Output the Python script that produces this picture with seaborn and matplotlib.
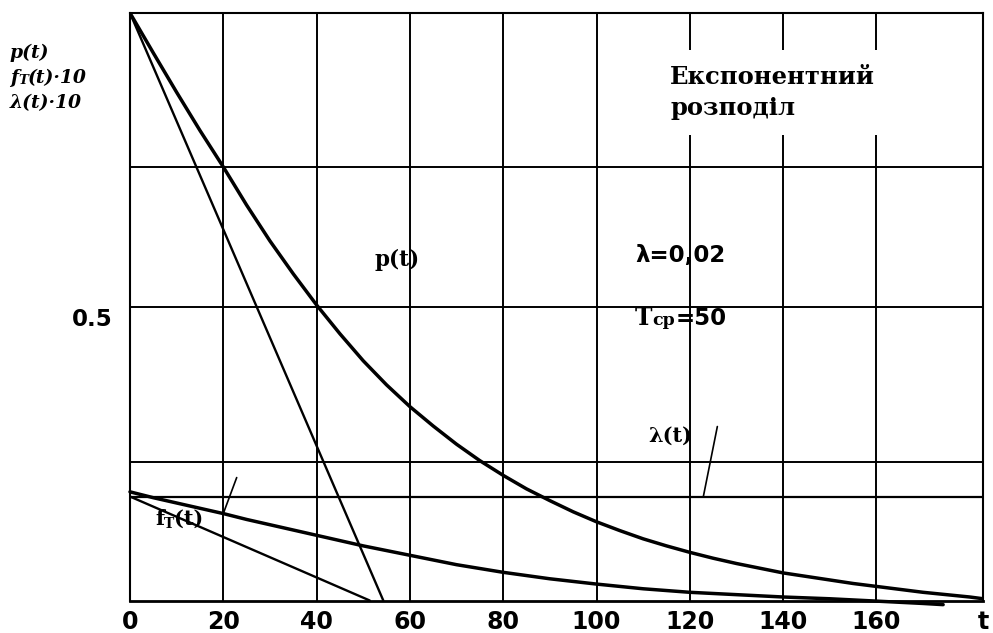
import matplotlib
matplotlib.use("Agg")
import matplotlib.pyplot as plt
import matplotlib.transforms as mtransforms
import pandas as pd
import seaborn as sns

# Exponential reliability model, lambda = 0.02, mean time T = 50
t_p = [0, 5, 10, 15, 20, 25, 30, 35, 40, 45, 50, 55, 60, 65, 70, 75, 80, 85, 90, 95,
       100, 105, 110, 115, 120, 125, 130, 135, 140, 145, 150, 155, 160, 165, 170, 175,
       180, 182.9]
p_vals = [1.0, 0.932, 0.865, 0.800, 0.738, 0.673, 0.612, 0.556, 0.503, 0.454, 0.408,
          0.367, 0.330, 0.297, 0.266, 0.238, 0.213, 0.190, 0.170, 0.151, 0.134, 0.119,
          0.105, 0.093, 0.082, 0.072, 0.063, 0.055, 0.047, 0.041, 0.035, 0.029, 0.024,
          0.019, 0.014, 0.010, 0.006, 0.003]

t_f = [0, 5, 10, 15, 20, 25, 30, 35, 40, 45, 50, 55, 60, 70, 80, 90, 100, 110, 120,
       130, 140, 150, 160, 170, 174.3]
f_vals = [0.185, 0.175, 0.166, 0.157, 0.148, 0.138, 0.129, 0.120, 0.111, 0.102, 0.093,
          0.085, 0.077, 0.061, 0.048, 0.037, 0.028, 0.020, 0.014, 0.010, 0.006, 0.003,
          -0.001, -0.005, -0.007]

t_lam = [0, 182.9]
lam_vals = [0.177, 0.177]

# tangents drawn at t = 0
t_p_tan = [0, 54.3]
p_tan = [1.0, 0.0]
t_f_tan = [0, 51.4]
f_tan = [0.177, 0.0]

x_ticks = [0, 20, 40, 60, 80, 100, 120, 140, 160, 182.9]
x_labels = ["0", "20", "40", "60", "80", "100", "120", "140", "160", "t"]
y_ticks = [0.236, 0.5, 0.738]
y_labels = ["", "0.5", ""]

sns.set_theme(style="white")
plt.rcParams["font.family"] = ["DejaVu Sans"]

fig = plt.figure(figsize=(9.93, 6.33), dpi=100)
ax = fig.add_axes([0.1309, 0.0513, 0.8593, 0.9282])
ax.set_xlim(0, 182.9)
ax.set_ylim(0, 1.0)

ax.set_xticks(x_ticks)
ax.set_xticklabels(x_labels)
ax.set_yticks(y_ticks)
ax.set_yticklabels(y_labels)
ax.grid(True, color="black", linewidth=1.4, zorder=0)
ax.set_axisbelow(True)
ax.tick_params(axis="both", length=0, colors="black")
ax.tick_params(axis="x", pad=7, labelsize=17)
ax.tick_params(axis="y", pad=12.2, labelsize=16.5)
for lab in ax.get_xticklabels() + ax.get_yticklabels():
    lab.set_fontweight("bold")
for lab in ax.get_yticklabels():
    lab.set_transform(lab.get_transform() +
                      mtransforms.ScaledTranslation(0, -10 / 100, fig.dpi_scale_trans))
for side, sp in ax.spines.items():
    sp.set_color("black")
    sp.set_linewidth(1.5)
ax.spines["bottom"].set_linewidth(2.0)

df_p = pd.DataFrame({"t": t_p, "v": p_vals})
df_f = pd.DataFrame({"t": t_f, "v": f_vals})
sns.lineplot(data=df_p, x="t", y="v", ax=ax, color="black", linewidth=2.5, zorder=5)
sns.lineplot(data=df_f, x="t", y="v", ax=ax, color="black", linewidth=2.5, zorder=5,
             clip_on=False)
sns.lineplot(x=t_lam, y=lam_vals, ax=ax, color="black", linewidth=1.6, zorder=4)
sns.lineplot(x=t_p_tan, y=p_tan, ax=ax, color="black", linewidth=1.7, zorder=4)
sns.lineplot(x=t_f_tan, y=f_tan, ax=ax, color="black", linewidth=1.7, zorder=4)
ax.set_xlabel("")
ax.set_ylabel("")

serif_b = dict(family="DejaVu Serif", weight="bold", color="black")
sans_b = dict(family="DejaVu Sans", weight="bold", color="black")

renderer = fig.canvas.get_renderer()


def text_run(host, x, y, pieces, base):
    """Write text pieces one after another on a common baseline."""
    dx = 0.0
    for s, kw, dy in pieces:
        tr = mtransforms.offset_copy(base, fig=fig, x=dx, y=dy, units="dots")
        txt = host.text(x, y, s, transform=tr, ha="left", va="baseline", zorder=6, **kw)
        dx += txt.get_window_extent(renderer).width


# title block with a white background cutting the grid
ax.text(115.8, 0.912, "Експонентний\nрозподіл", ha="left", va="top",
        fontsize=17.5, linespacing=1.4, zorder=3,
        bbox=dict(boxstyle="square,pad=0.62", facecolor="white", edgecolor="none"),
        **serif_b)

ax.text(108.3, 0.5755, "λ=0,02", ha="left", va="baseline", fontsize=16.5, zorder=6, **sans_b)
text_run(ax, 108.3, 0.4693,
         [("T", dict(fontsize=17, **serif_b), 0),
          ("ср", dict(fontsize=12.5, **serif_b), 0),
          ("=50", dict(fontsize=16.5, **sans_b), 0)],
         ax.transData)

ax.text(52.5, 0.5687, "p(t)", ha="left", va="baseline", fontsize=15.5, zorder=6, **serif_b)
ax.text(111.0, 0.2705, "λ(t)", ha="left", va="baseline", fontsize=15, zorder=6, **serif_b)
text_run(ax, 5.4, 0.1286,
         [("f", dict(fontsize=15, **serif_b), 0),
          ("T", dict(fontsize=10, **serif_b), -3),
          ("(t)", dict(fontsize=15, **serif_b), 0)],
         ax.transData)

# leader lines from the labels to the curves (offsets given in pixels -> points)
px = 0.72
ax.annotate("", xy=(t_f[4], f_vals[4]), xytext=(13.4 * px, 36 * px),
            textcoords="offset points",
            arrowprops=dict(arrowstyle="-", color="black", lw=1.2, shrinkA=0, shrinkB=0))
ax.annotate("", xy=(122.9, lam_vals[0]), xytext=(14 * px, 70 * px),
            textcoords="offset points",
            arrowprops=dict(arrowstyle="-", color="black", lw=1.2, shrinkA=0, shrinkB=0))

# axis caption in the upper left corner
serif_bi = dict(family="DejaVu Serif", weight="bold", style="italic", color="black")
H = 633.0
text_run(fig, 10 / 993, 1 - 58.3 / H, [("p(t)", dict(fontsize=13.5, **serif_bi), 0)],
         fig.transFigure)
text_run(fig, 10 / 993, 1 - 83.3 / H,
         [("f", dict(fontsize=13.5, **serif_bi), 0),
          ("T", dict(fontsize=9.5, **serif_bi), -1),
          ("(t)·10", dict(fontsize=13.5, **serif_bi), 0)],
         fig.transFigure)
text_run(fig, 10 / 993, 1 - 108.3 / H, [("λ(t)·10", dict(fontsize=13.5, **serif_bi), 0)],
         fig.transFigure)

fig.savefig("out.png", dpi=100, facecolor="white")
